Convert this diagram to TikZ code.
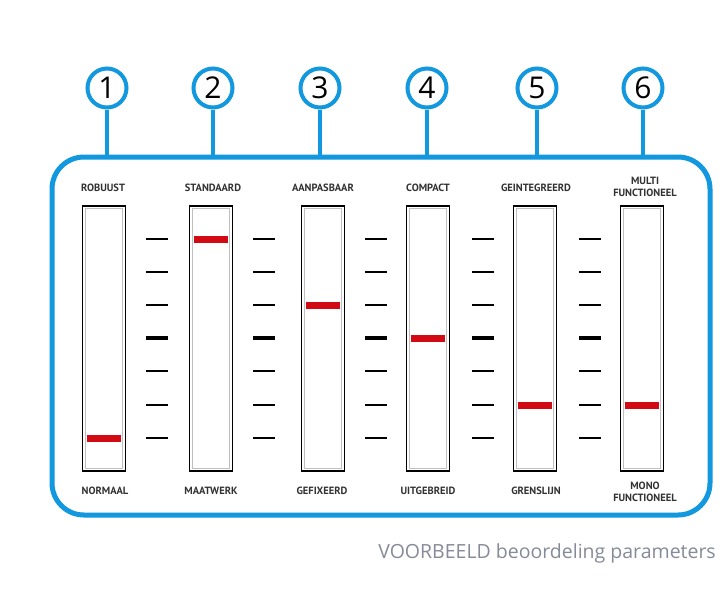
\documentclass[tikz,border=0pt]{standalone}
\usepackage{fontspec}
\setmainfont{Liberation Sans}
\newfontfamily\numfont{Open Sans}
\newfontfamily\labfont{PT Sans}
\definecolor{frameblue}{RGB}{18,152,222}
\definecolor{barred}{RGB}{210,10,20}
\definecolor{labelgray}{RGB}{50,50,50}
\definecolor{capgray}{RGB}{135,138,152}
\begin{document}
\begin{tikzpicture}[x=1pt,y=-1pt,
  numcircle/.style={circle,draw=frameblue,line width=4pt,minimum size=39pt,inner sep=0pt,fill=white,font=\numfont\fontsize{30}{30}\selectfont},
  stem/.style={draw=frameblue,line width=4pt},
  frame/.style={draw=frameblue,line width=5pt,rounded corners=32pt,minimum width=658pt,minimum height=358pt},
  slider/.style={draw=black,line width=1.5pt,minimum width=43pt,minimum height=265pt,inner sep=0pt},
  innerline/.style={draw=black!25,line width=0.9pt},
  redbar/.style={fill=barred,minimum width=34pt,minimum height=7pt,inner sep=0pt},
  tick/.style={line width=1.4pt},
  boldtick/.style={line width=3.2pt},
  lab/.style={font=\labfont\bfseries\fontsize{10.5}{12.5}\selectfont,text=labelgray,align=center,inner sep=0pt},
  caption/.style={font=\numfont\fontsize{19.5}{20}\selectfont,text=capgray,anchor=east,inner sep=0pt}
]
\useasboundingbox (0,0) rectangle (725,614);
\fill[white] (0,0) rectangle (725,614);

% frame
\node[frame] (box) at (381,336) {};

% circles and stems
\foreach \i/\x in {1/107,2/213,3/320,4/427,5/537,6/643}{
  \node[numcircle] (c\i) at (\x,88) {\i};
  \draw[stem] (c\i.south) -- (c\i.south |- box.north);
}

% sliders
\foreach \i/\x in {1/104,2/211,3/323,4/428,5/535,6/642}{
  \node[slider] (s\i) at (\x,338.5) {};
  \draw[innerline] ([shift={(4,3.5)}]s\i.north west) rectangle ([shift={(-4,-3.5)}]s\i.south east);
}

% ticks
\foreach \x in {157,264,376,483,590}{
  \foreach \y in {239,272,305,371,405,438}{
    \draw[tick] (\x-11,\y) -- (\x+11,\y);
  }
  \draw[boldtick] (\x-11,338) -- (\x+11,338);
}

% red bars
\node[redbar] (r1) at (104,438) {};
\node[redbar] (r2) at (211,239) {};
\node[redbar] (r3) at (323,305) {};
\node[redbar] (r4) at (428,338) {};
\node[redbar] (r5) at (535,405) {};
\node[redbar] (r6) at (642,405) {};

% top labels
\node[lab] (t1) at (103,188) {ROBUUST};
\node[lab] (t2) at (213,188) {STANDAARD};
\node[lab] (t3) at (323,188) {AANPASBAAR};
\node[lab] (t4) at (428,188) {COMPACT};
\node[lab] (t5) at (536,188) {GEINTEGREERD};
\node[lab] (t6) at (645,187) {MULTI\\FUNCTIONEEL};

% bottom labels
\node[lab] (b1) at (105,491) {NORMAAL};
\node[lab] (b2) at (211,491) {MAATWERK};
\node[lab] (b3) at (322,491) {GEFIXEERD};
\node[lab] (b4) at (428,491) {UITGEBREID};
\node[lab] (b5) at (536,491) {GRENSLIJN};
\node[lab] (b6) at (645,492) {MONO\\FUNCTIONEEL};

% caption
\node[caption] (cap) at (716,553) {VOORBEELD beoordeling parameters};
\end{tikzpicture}
\end{document}
